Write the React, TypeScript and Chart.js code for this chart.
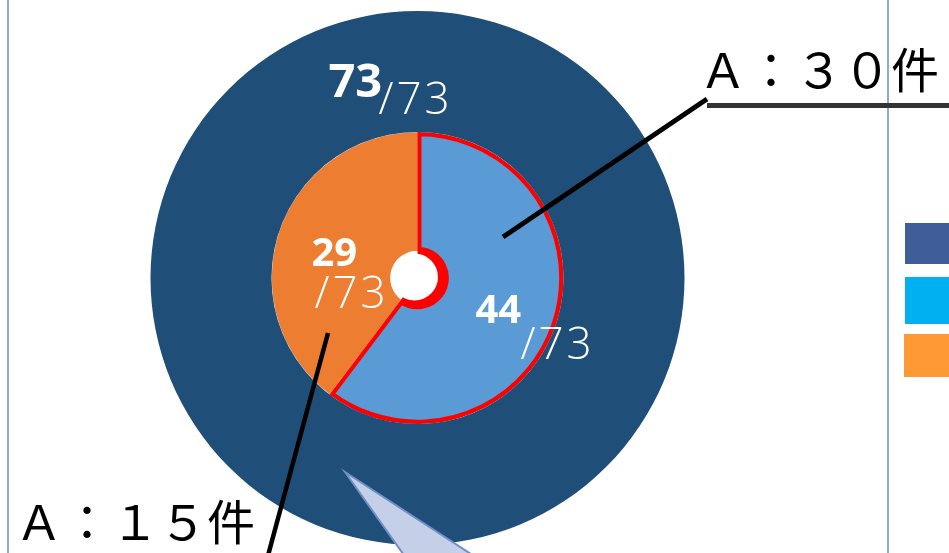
import React, { useEffect, useRef } from 'react';
import { Chart, registerables } from 'chart.js';

Chart.register(...registerables);

// ---- data ----
const totalLabels = ['合計'];
const totalValues = [73];
const sliceLabels = ['A', 'B'];
const sliceValues = [44, 29];
const calloutTexts = ['Ａ：３０件', 'Ａ：１５件'];
const legendColors = ['#3F5E99', '#00B0F0', '#FF9933'];

const RING = '#1F4E79';
const BLUE = '#5B9BD5';
const ORANGE = '#ED7D31';
const RED = '#FF0000';

export default function App() {
  const ref = useRef<HTMLCanvasElement>(null);

  useEffect(() => {
    if (!ref.current) return;
    const total = totalValues[0];

    const overlay = {
      id: 'overlay',
      beforeDatasetsDraw(chart: any) {
        const ctx = chart.ctx as CanvasRenderingContext2D;
        const H = chart.height;
        ctx.save();
        // frame lines
        ctx.fillStyle = '#8EA9DB';
        ctx.fillRect(7, 0, 2, H);
        ctx.fillRect(887, 0, 2, H);
        // cut-off legend squares
        const boxes = [
          [905, 223, 50, 41],
          [905, 277, 50, 47],
          [904, 334, 51, 43],
        ];
        boxes.forEach((b, i) => {
          ctx.fillStyle = legendColors[i];
          ctx.fillRect(b[0], b[1], b[2], b[3]);
        });
        ctx.restore();
      },
      afterDatasetsDraw(chart: any) {
        const ctx = chart.ctx as CanvasRenderingContext2D;
        const meta = chart.getDatasetMeta(1);
        const blue: any = meta.data[0];
        const cx = blue.x;
        const cy = blue.y;
        ctx.save();

        // hole with red crescent on the blue side
        ctx.fillStyle = RED;
        ctx.beginPath();
        ctx.moveTo(cx, cy);
        ctx.arc(cx, cy, blue.innerRadius + 1, blue.startAngle, blue.endAngle);
        ctx.closePath();
        ctx.fill();
        ctx.fillStyle = '#FFFFFF';
        ctx.beginPath();
        ctx.arc(cx - 3, cy - 1, 23.5, 0, Math.PI * 2);
        ctx.fill();

        // value labels
        ctx.fillStyle = '#FFFFFF';
        ctx.textAlign = 'left';
        ctx.textBaseline = 'alphabetic';
        const bold = (s: number) => `bold ${s}px "Open Sans", "Noto Sans", sans-serif`;
        const light = (s: number) => `300 ${s}px "Open Sans", "Noto Sans", sans-serif`;
        const labels: [string, string, number, number, string][] = [
          [String(total), bold(47), -89, -181, '0px'],
          ['/' + total, light(44), -39, -164, '3px'],
          [String(sliceValues[1]), bold(40), -106, -12, '0px'],
          ['/' + total, light(44), -103, 30, '3px'],
          [String(sliceValues[0]), bold(40), 58, 45, '0px'],
          ['/' + total, light(44), 103, 81, '3px'],
        ];
        labels.forEach(([t, f, dx, dy, ls]) => {
          ctx.font = f;
          (ctx as any).letterSpacing = ls;
          ctx.fillText(t, cx + dx, cy + dy);
        });
        (ctx as any).letterSpacing = '0px';

        // callout triangle
        ctx.beginPath();
        ctx.moveTo(cx - 72.5, cy + 194);
        ctx.lineTo(cx + 78, cy + 292);
        ctx.lineTo(cx - 3, cy + 292);
        ctx.closePath();
        ctx.fillStyle = '#C5D0E8';
        ctx.fill();
        ctx.strokeStyle = '#6F8FC9';
        ctx.lineWidth = 2;
        ctx.lineJoin = 'miter';
        ctx.stroke();

        // leader lines
        ctx.strokeStyle = '#000000';
        ctx.lineCap = 'butt';
        ctx.lineWidth = 5;
        ctx.beginPath();
        ctx.moveTo(cx + 85.5, cy - 41);
        ctx.lineTo(cx + 289.5, cy - 179);
        ctx.stroke();
        ctx.lineWidth = 4.5;
        ctx.beginPath();
        ctx.moveTo(cx - 89.5, cy + 55);
        ctx.lineTo(cx - 151.5, cy + 285);
        ctx.stroke();

        ctx.fillStyle = '#333333';
        ctx.fillRect(cx + 289.5, cy - 175, 260, 5);

        // callout texts
        ctx.fillStyle = '#000000';
        ctx.font = '48px "Noto Sans CJK JP", sans-serif';
        ctx.fillText(calloutTexts[0], cx + 281.5, cy - 190);
        ctx.fillText(calloutTexts[1], cx - 402.5, cy + 262);

        ctx.restore();
      },
    };

    const chart = new Chart(ref.current, {
      type: 'doughnut',
      data: {
        labels: sliceLabels,
        datasets: [
          {
            label: totalLabels[0],
            data: totalValues,
            backgroundColor: [RING],
            borderWidth: 0,
            weight: 121,
          } as any,
          {
            label: '内訳',
            data: sliceValues,
            backgroundColor: [BLUE, ORANGE],
            borderColor: [RED, 'rgba(0,0,0,0)'],
            borderWidth: [4, 0],
            borderAlign: 'inner',
            weight: 119,
          } as any,
        ],
      },
      options: {
        responsive: false,
        animation: false,
        events: [],
        cutout: 27,
        layout: { padding: { left: 150, right: 264, top: 11, bottom: 8 } },
        elements: { arc: { hoverOffset: 0, offset: 0, hoverBorderWidth: 0 } as any },
        plugins: {
          legend: { display: false },
          tooltip: { enabled: false },
        },
      } as any,
      plugins: [overlay],
    });
    return () => chart.destroy();
  }, []);

  return (
    <div style={{ position: 'fixed', left: 0, top: 0, width: 949, height: 553, background: '#FFFFFF', overflow: 'hidden' }}>
      <canvas ref={ref} width={949} height={553} style={{ display: 'block' }} />
    </div>
  );
}
